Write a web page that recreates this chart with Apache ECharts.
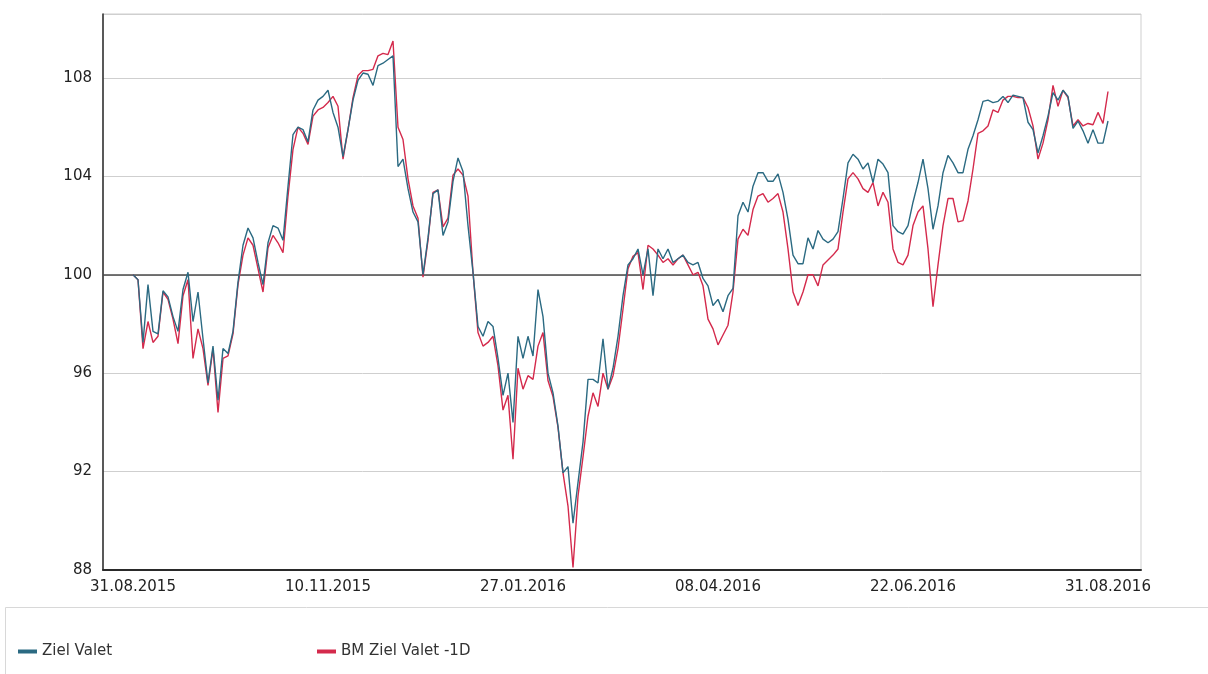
<!DOCTYPE html>
<html>
<head>
<meta charset="utf-8">
<script src="https://cdn.jsdelivr.net/npm/echarts@6/dist/echarts.min.js"></script>
<style>
html,body{margin:0;padding:0;background:#fff;}
#chart{width:1208px;height:674px;}
</style>
</head>
<body>
<div id="chart"></div>
<script>
var xTickLabels = ['31.08.2015','10.11.2015','27.01.2016','08.04.2016','22.06.2016','31.08.2016'];
var xTickIndex = [0, 39, 78, 117, 156, 195];
var yTicks = [88, 92, 96, 100, 104, 108];
var seriesNames = ['Ziel Valet', 'BM Ziel Valet -1D'];

var zielValet = [
100.0,99.8,97.25,99.6,97.7,97.6,99.35,99.1,98.3,97.7,
99.4,100.1,98.1,99.3,97.4,95.6,97.1,94.9,97.0,96.8,
97.7,99.7,101.2,101.9,101.5,100.5,99.6,101.3,102.0,101.9,
101.4,103.6,105.7,106.0,105.9,105.4,106.7,107.1,107.25,107.5,
106.6,106.0,104.8,105.9,107.1,107.9,108.2,108.15,107.7,108.5,
108.6,108.75,108.9,104.4,104.7,103.5,102.55,102.15,100.0,101.5,
103.3,103.45,101.6,102.15,103.8,104.75,104.2,102.0,100.1,97.9,
97.5,98.1,97.9,96.6,95.1,96.0,94.0,97.5,96.6,97.5,
96.7,99.4,98.3,96.0,95.2,93.85,91.95,92.2,89.9,91.55,
93.2,95.75,95.75,95.6,97.4,95.35,96.2,97.5,99.15,100.4,
100.65,101.05,100.0,101.05,99.15,101.05,100.65,101.05,100.5,100.65,
100.8,100.5,100.4,100.5,99.85,99.55,98.75,99.0,98.5,99.15,
99.45,102.4,102.95,102.55,103.6,104.15,104.15,103.8,103.8,104.1,
103.35,102.25,100.8,100.45,100.45,101.5,101.05,101.8,101.45,101.3,
101.45,101.75,103.1,104.55,104.9,104.7,104.3,104.55,103.75,104.7,
104.5,104.15,102.0,101.75,101.65,102.0,102.95,103.75,104.7,103.5,
101.85,102.8,104.15,104.85,104.55,104.15,104.15,105.1,105.65,106.3,
107.05,107.1,107.0,107.05,107.25,107.0,107.3,107.25,107.2,106.2,
105.9,104.95,105.65,106.45,107.4,107.1,107.5,107.25,105.95,106.25,
105.85,105.35,105.9,105.35,105.35,106.25
];

var bmZielValet = [
100.0,99.8,97.0,98.1,97.25,97.5,99.3,99.0,98.2,97.2,
99.15,99.8,96.6,97.8,97.0,95.5,97.0,94.4,96.6,96.7,
97.6,99.6,100.8,101.5,101.2,100.25,99.3,101.1,101.6,101.3,
100.9,103.2,105.1,106.0,105.75,105.3,106.45,106.7,106.8,107.0,
107.25,106.85,104.7,105.9,107.2,108.1,108.3,108.3,108.35,108.9,
109.0,108.95,109.5,106.0,105.5,103.9,102.8,102.3,99.9,101.4,
103.35,103.45,101.95,102.3,104.05,104.3,104.05,103.2,100.1,97.65,
97.1,97.25,97.5,96.3,94.5,95.1,92.5,96.2,95.35,95.9,
95.75,97.1,97.65,95.7,95.05,93.8,91.95,90.6,88.1,91.0,
92.6,94.25,95.2,94.65,96.0,95.35,95.9,97.0,98.6,100.25,
100.75,100.9,99.4,101.2,101.05,100.8,100.5,100.65,100.4,100.65,
100.8,100.4,100.0,100.1,99.55,98.2,97.8,97.15,97.55,97.95,
99.3,101.45,101.85,101.6,102.65,103.2,103.3,102.95,103.1,103.3,
102.55,101.05,99.3,98.75,99.3,100.0,100.0,99.55,100.4,100.6,
100.8,101.05,102.55,103.9,104.15,103.9,103.5,103.35,103.75,102.8,
103.35,102.95,101.05,100.5,100.4,100.8,102.0,102.55,102.8,101.05,
98.7,100.4,102.0,103.1,103.1,102.15,102.2,103.0,104.3,105.75,
105.85,106.05,106.7,106.6,107.1,107.25,107.25,107.2,107.2,106.8,
106.05,104.7,105.35,106.3,107.7,106.85,107.5,107.2,106.05,106.3,
106.05,106.15,106.1,106.6,106.15,107.45
];

var chart = echarts.init(document.getElementById('chart'), null, {renderer: 'canvas'});
var FONT = 'DejaVu Sans';

function toPairs(arr){ return arr.map(function(v,i){ return [i, v]; }); }

var option = {
  animation: false,
  backgroundColor: '#ffffff',
  graphic: [{
    type: 'rect', silent: true, z: -1,
    shape: {x: 5.5, y: 607.5, width: 1300, height: 200},
    style: {fill: '#ffffff', stroke: '#d8d8d8', lineWidth: 1}
  }],
  grid: {
    left: 103, right: 67, top: 14, bottom: 104,
    show: true, borderColor: '#cfcfcf', borderWidth: 1, backgroundColor: 'transparent'
  },
  legend: [{
    data: [seriesNames[0]], left: 13, top: 639,
    icon: 'rect', itemWidth: 19, itemHeight: 4, itemGap: 6,
    textStyle: {fontFamily: FONT, fontSize: 15, color: '#333'}
  },{
    data: [seriesNames[1]], left: 312, top: 639,
    icon: 'rect', itemWidth: 19, itemHeight: 4, itemGap: 6,
    textStyle: {fontFamily: FONT, fontSize: 15, color: '#333'}
  }],
  xAxis: {
    type: 'value', min: -6, max: 201.6,
    axisLine: {show: true, onZero: false, lineStyle: {color: '#2a2a2a', width: 2}},
    axisTick: {show: false},
    splitLine: {show: false},
    axisLabel: {
      customValues: xTickIndex,
      margin: 10,
      fontFamily: FONT, fontSize: 15, color: '#222',
      formatter: function(v){ var k = xTickIndex.indexOf(Math.round(v)); return k >= 0 ? xTickLabels[k] : ''; }
    }
  },
  yAxis: {
    type: 'value', min: yTicks[0], max: 110.6, interval: 4,
    axisLine: {show: true, onZero: false, lineStyle: {color: '#2a2a2a', width: 1.5}},
    axisTick: {show: false},
    splitLine: {show: true, lineStyle: {color: '#cfcfcf', width: 1}},
    axisLabel: {
      margin: 11, showMaxLabel: false,
      fontFamily: FONT, fontSize: 15, color: '#222',
      formatter: function(v){ return yTicks.indexOf(v) >= 0 ? String(v) : ''; }
    }
  },
  series: [{
    name: seriesNames[0], type: 'line', data: toPairs(zielValet),
    showSymbol: false, symbol: 'none', z: 3,
    lineStyle: {color: '#2b6a82', width: 1.4},
    itemStyle: {color: '#2b6a82'},
    markLine: {
      silent: true, symbol: 'none', label: {show: false}, z: 1,
      lineStyle: {color: '#4a4a4a', width: 1.5, type: 'solid'},
      data: [{yAxis: 100}]
    }
  },{
    name: seriesNames[1], type: 'line', data: toPairs(bmZielValet),
    showSymbol: false, symbol: 'none', z: 2,
    lineStyle: {color: '#d42a4c', width: 1.4},
    itemStyle: {color: '#d42a4c'}
  }]
};
chart.setOption(option);
</script>
</body>
</html>
